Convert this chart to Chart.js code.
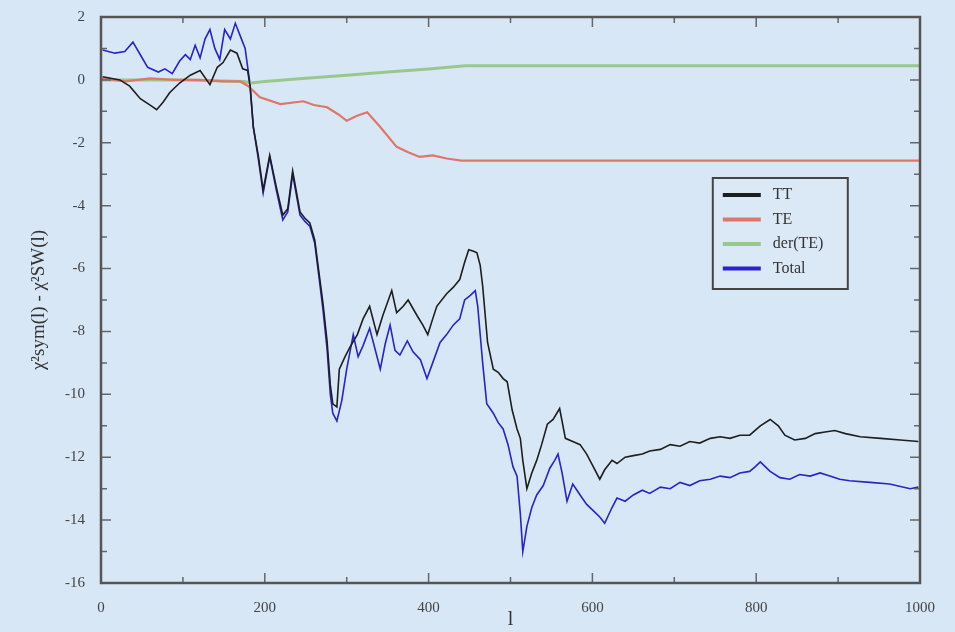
<!DOCTYPE html>
<html>
<head>
<meta charset="utf-8">
<script src="https://cdn.jsdelivr.net/npm/chart.js@4.4.1/dist/chart.umd.min.js"></script>
<style>
html, body { margin: 0; padding: 0; background: #d8e7f6; }
#wrap { width: 955px; height: 632px; position: relative; }
</style>
</head>
<body>
<div id="wrap"><canvas id="chi2Chart"></canvas></div>
<script>
// values (multipole l, delta chi^2)
const seriesNames = ["TT", "TE", "der(TE)", "Total"]

const ttEll = [2, 23, 35, 48, 60, 68, 76, 84, 96, 109, 121, 133, 142, 149, 158, 166, 173, 179,
    182, 186, 192, 198, 206, 214, 222, 228, 234, 243, 249, 255, 261, 267, 271, 276, 280, 283, 288,
    291, 298, 304, 313, 320, 328, 337, 344, 355, 361, 369, 375, 386, 393, 399, 405, 410, 422, 430,
    438, 444, 449, 455, 459, 463, 466, 472, 479, 485, 491, 496, 502, 508, 512, 515, 520, 526, 532,
    538, 545, 552, 560, 567, 576, 585, 593, 601, 609, 615, 624, 630, 640, 650, 661, 670, 683, 695,
    707, 719, 731, 744, 756, 768, 780, 792, 805, 817, 827, 835, 847, 860, 872, 884, 896, 909, 927,
    952, 976, 998]
const ttVal = [0.1, 0.0, -0.2, -0.6, -0.8, -0.95, -0.7, -0.4, -0.1, 0.15, 0.3, -0.15, 0.4, 0.55, 0.95, 0.85, 0.35, 0.3,
    -0.2, -1.5, -2.4, -3.5, -2.4, -3.4, -4.3, -4.1, -2.9, -4.2, -4.4, -4.55, -5.1, -6.3, -7.1, -8.3, -9.7, -10.3, -10.4,
    -9.2, -8.8, -8.5, -8.1, -7.6, -7.2, -8.1, -7.5, -6.7, -7.4, -7.2, -7.0, -7.5, -7.8, -8.1, -7.6, -7.2, -6.8, -6.6,
    -6.35, -5.8, -5.4, -5.45, -5.5, -5.9, -6.55, -8.35, -9.2, -9.3, -9.5, -9.6, -10.5, -11.1, -11.4, -12.1, -13.0, -12.5, -12.1,
    -11.6, -10.95, -10.8, -10.45, -11.4, -11.5, -11.6, -11.9, -12.3, -12.7, -12.4, -12.1, -12.2, -12.0, -11.95, -11.9, -11.8, -11.75, -11.6,
    -11.65, -11.5, -11.55, -11.4, -11.35, -11.4, -11.3, -11.3, -11.0, -10.8, -11.0, -11.3, -11.45, -11.4, -11.25, -11.2, -11.15, -11.25, -11.35,
    -11.4, -11.45, -11.5]

const teEll = [0, 30, 60, 90, 120, 150, 170, 180, 194, 219, 247, 260, 276, 290, 300, 312, 325, 341, 361, 375, 389, 405, 422, 440, 1000]
const teVal = [0.05, -0.05, 0.05, 0.0, 0.0, -0.05, -0.05, -0.2, -0.55, -0.77, -0.68, -0.8, -0.87, -1.1, -1.3, -1.15, -1.03, -1.5, -2.13, -2.3, -2.45, -2.4, -2.5, -2.57, -2.57]

const derEll = [0, 100, 175, 183, 200, 250, 300, 350, 400, 445, 1000]
const derVal = [0.0, 0.0, -0.05, -0.1, -0.05, 0.05, 0.15, 0.25, 0.35, 0.45, 0.45]

const totEll = [2, 17, 29, 39, 48, 57, 70, 78, 87, 96, 103, 109, 115, 121, 127, 133, 139, 145, 151, 158, 164, 170, 176,
    182, 186, 192, 198, 206, 214, 222, 228, 234, 243, 249, 255, 261, 267, 271, 276, 280, 283, 288, 294, 300, 308, 314,
    320, 328, 335, 341, 347, 353, 359, 365, 374, 381, 390, 398, 405, 414, 422, 430, 438, 444, 451, 457, 460, 466, 471,
    479, 485, 491, 497, 503, 508, 512, 515, 520, 526, 532, 540, 548, 554, 558, 563, 569, 576, 585, 593, 601, 609, 615,
    624, 630, 640, 650, 661, 670, 683, 695, 707, 719, 731, 744, 756, 768, 780, 792, 799, 805, 811, 817, 829, 841, 853,
    866, 878, 890, 902, 914, 939, 963, 988, 998]
const totVal = [0.95, 0.85, 0.9, 1.2, 0.8, 0.4, 0.25, 0.35, 0.2, 0.6, 0.8, 0.65, 1.1, 0.7, 1.3, 1.6, 1.0, 0.65, 1.6, 1.3, 1.8, 1.4, 1.0,
    -0.15, -1.5, -2.5, -3.6, -2.45, -3.5, -4.45, -4.2, -3.0, -4.3, -4.5, -4.65, -5.2, -6.45, -7.3, -8.55, -10.0, -10.6, -10.85, -10.2, -9.2, -8.1, -8.8,
    -8.45, -7.9, -8.6, -9.2, -8.4, -7.8, -8.6, -8.75, -8.3, -8.65, -8.9, -9.5, -9.0, -8.35, -8.1, -7.8, -7.6, -7.0, -6.85, -6.7, -7.2, -9.0, -10.3,
    -10.6, -10.9, -11.1, -11.6, -12.3, -12.6, -13.8, -15.0, -14.2, -13.6, -13.2, -12.9, -12.35, -12.1, -11.9, -12.5, -13.4, -12.85, -13.2, -13.5, -13.7, -13.9, -14.1,
    -13.6, -13.3, -13.4, -13.2, -13.05, -13.15, -12.95, -13.0, -12.8, -12.9, -12.75, -12.7, -12.6, -12.65, -12.5, -12.45, -12.3, -12.15, -12.3, -12.45, -12.65, -12.7, -12.55,
    -12.6, -12.5, -12.6, -12.7, -12.75, -12.8, -12.85, -13.0, -12.95]

const xTicks = [0, 200, 400, 600, 800, 1000]
const yTicks = [2, 0, -2, -4, -6, -8, -10, -12, -14, -16]

const serif = "'Liberation Serif', 'DejaVu Serif', serif"

function toPoints(ell, val) {
    return ell.map((l, i) => ({ x: l, y: val[i] }))
}

function createLineDataset(ell, val, label, color, width) {
    let dataset = {}
    dataset["data"] = toPoints(ell, val)
    dataset["label"] = label
    dataset["borderColor"] = color
    dataset["borderWidth"] = width
    dataset["pointRadius"] = 0
    dataset["fill"] = false
    dataset["tension"] = 0
    return dataset
}

// inward ticks on all four sides plus the frame
const frameTicks = {
    id: 'frameTicks',
    afterDatasetsDraw(chart) {
        const ctx = chart.ctx
        const a = chart.chartArea
        const x = chart.scales.x
        const y = chart.scales.y
        ctx.save()
        ctx.strokeStyle = '#666'
        ctx.lineWidth = 1.5
        ctx.beginPath()
        for (let v = 0; v <= 1000; v += 100) {
            const px = x.getPixelForValue(v)
            const len = v % 200 === 0 ? 10 : 6
            ctx.moveTo(px, a.bottom); ctx.lineTo(px, a.bottom - len)
            ctx.moveTo(px, a.top); ctx.lineTo(px, a.top + len)
        }
        for (let v = -16; v <= 2; v += 1) {
            const py = y.getPixelForValue(v)
            const len = v % 2 === 0 ? 10 : 6
            ctx.moveTo(a.left, py); ctx.lineTo(a.left + len, py)
            ctx.moveTo(a.right, py); ctx.lineTo(a.right - len, py)
        }
        ctx.stroke()
        ctx.lineWidth = 2.5
        ctx.strokeStyle = '#555'
        ctx.strokeRect(a.left, a.top, a.right - a.left, a.bottom - a.top)
        ctx.restore()
    }
}

// boxed legend inside the plot, upper right
const boxLegend = {
    id: 'boxLegend',
    afterDraw(chart) {
        const ctx = chart.ctx
        const a = chart.chartArea
        const bx = a.left + (a.right - a.left) * 0.747
        const by = a.top + 161
        const bw = 135
        const bh = 111
        ctx.save()
        ctx.fillStyle = '#dbe9f7'
        ctx.fillRect(bx, by, bw, bh)
        ctx.strokeStyle = '#444'
        ctx.lineWidth = 2
        ctx.strokeRect(bx, by, bw, bh)
        ctx.font = "16px " + serif
        ctx.textBaseline = 'middle'
        chart.data.datasets.forEach((ds, i) => {
            const ly = by + 17 + i * 24.5
            ctx.strokeStyle = ds.borderColor
            ctx.lineWidth = 4
            ctx.beginPath()
            ctx.moveTo(bx + 10, ly); ctx.lineTo(bx + 48, ly)
            ctx.stroke()
            ctx.fillStyle = '#333'
            ctx.fillText(ds.label, bx + 60, ly)
        })
        ctx.restore()
    }
}

const bgPlugin = {
    id: 'bg',
    beforeDraw(chart) {
        const ctx = chart.ctx
        ctx.save()
        ctx.fillStyle = '#d8e7f6'
        ctx.fillRect(0, 0, chart.width, chart.height)
        ctx.restore()
    }
}

new Chart(document.getElementById("chi2Chart"), {
    type: 'line',
    data: {
        datasets: [
            createLineDataset(ttEll, ttVal, seriesNames[0], '#1e1e1e', 1.6),
            createLineDataset(teEll, teVal, seriesNames[1], '#e0766a', 2.2),
            createLineDataset(derEll, derVal, seriesNames[2], '#98c88c', 3),
            createLineDataset(totEll, totVal, seriesNames[3], '#2b22c8', 1.6),
        ],
    },
    options: {
        responsive: true,
        maintainAspectRatio: false,
        animation: false,
        layout: { padding: { top: 12, right: 35, left: 28, bottom: 0 } },
        plugins: {
            legend: { display: false },
            tooltip: { enabled: false },
        },
        scales: {
            x: {
                type: 'linear',
                min: 0,
                max: 1000,
                grid: { display: false },
                border: { display: false },
                afterBuildTicks: axis => { axis.ticks = xTicks.map(v => ({ value: v })) },
                afterFit: axis => { axis.height = 49 },
                ticks: {
                    padding: 8,
                    color: '#444',
                    font: { family: serif, size: 15 },
                    callback: v => String(v),
                },
                title: {
                    display: true,
                    text: 'l',
                    color: '#333',
                    font: { family: serif, size: 20 },
                    padding: { top: 0, bottom: 0 },
                },
            },
            y: {
                min: -16,
                max: 2,
                grid: { display: false },
                border: { display: false },
                afterBuildTicks: axis => { axis.ticks = yTicks.map(v => ({ value: v })) },
                afterFit: axis => { axis.width = 73 },
                ticks: {
                    padding: 8,
                    color: '#444',
                    font: { family: serif, size: 15 },
                    callback: v => String(v),
                },
                title: {
                    display: true,
                    text: 'χ²sym(l) - χ²SW(l)',
                    color: '#333',
                    font: { family: serif, size: 19 },
                    padding: { top: 0, bottom: 4 },
                },
            },
        },
    },
    plugins: [bgPlugin, frameTicks, boxLegend],
})
</script>
</body>
</html>
